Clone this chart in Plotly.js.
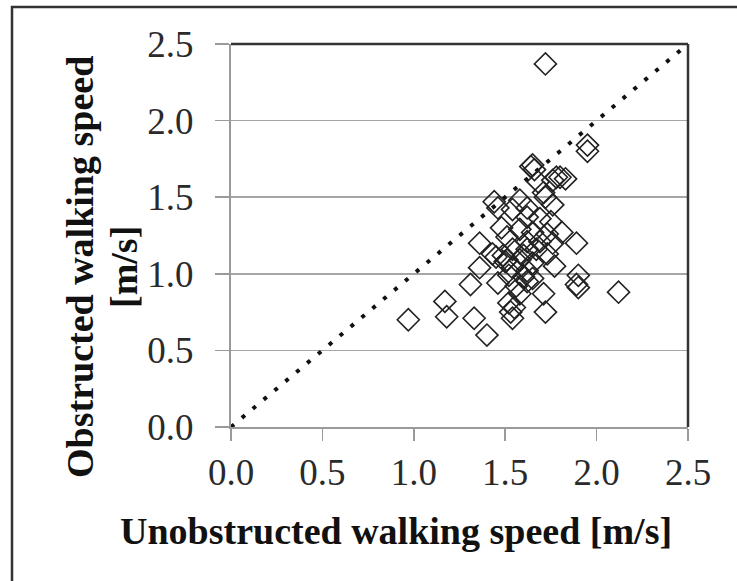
<!DOCTYPE html>
<html>
<head>
<meta charset="utf-8">
<script src="https://cdn.plot.ly/plotly-3.0.1.min.js"></script>
<style>
  html, body { margin: 0; padding: 0; background: #ffffff; }
  #chart { width: 737px; height: 581px; }
</style>
</head>
<body>
<div id="chart"></div>
<script>
// Walking speed of each pedestrian: unobstructed (x) vs obstructed (y), in m/s
const unobstructedSpeed = [
  0.97, 1.17, 1.18, 1.33, 1.40, 1.31, 1.36, 1.36, 1.44, 1.46,
  1.46, 1.48, 1.43, 1.49, 1.52, 1.53, 1.54, 1.55, 1.58, 1.71,
  1.72, 1.77, 1.89, 1.90, 1.89, 1.90, 2.12, 1.95, 1.95, 1.72,
  1.64, 1.66, 1.65, 1.80, 1.83, 1.76, 1.71, 1.72, 1.76, 1.58,
  1.62, 1.54, 1.62, 1.69, 1.75, 1.58, 1.65, 1.73, 1.81, 1.51,
  1.62, 1.69, 1.76, 1.54, 1.62, 1.67, 1.73, 1.45, 1.51, 1.58,
  1.65, 1.54, 1.62, 1.52, 1.60, 1.65, 1.56, 1.62, 1.50, 1.60,
  1.68, 1.78
];
const obstructedSpeed = [
  0.70, 0.82, 0.72, 0.71, 0.60, 0.93, 1.04, 1.20, 1.47, 1.43,
  0.94, 1.30, 1.13, 1.12, 0.81, 0.75, 0.71, 0.78, 0.87, 0.87,
  0.75, 1.05, 1.20, 0.99, 0.93, 0.91, 0.88, 1.80, 1.84, 2.37,
  1.70, 1.68, 1.71, 1.63, 1.62, 1.61, 1.53, 1.50, 1.45, 1.48,
  1.43, 1.42, 1.37, 1.36, 1.34, 1.29, 1.27, 1.26, 1.27, 1.24,
  1.21, 1.21, 1.20, 1.16, 1.16, 1.16, 1.13, 1.11, 1.09, 1.09,
  1.07, 1.04, 1.02, 0.99, 0.98, 0.97, 0.92, 0.95, 1.08, 1.12,
  1.60, 1.63
];

// Equal-speed reference line (y = x)
const equalityLine = [0, 2.5];

// Axis ticks
const tickValues = [0, 0.5, 1.0, 1.5, 2.0, 2.5];
const tickLabels = ['0.0', '0.5', '1.0', '1.5', '2.0', '2.5'];

const xTitle = 'Unobstructed walking speed [m/s]';
const yTitleLines = ['Obstructed walking speed', '[m/s]'];

const serif = '"Liberation Serif", "Times New Roman", Times, serif';

const traces = [
  {
    type: 'scatter',
    mode: 'lines',
    x: equalityLine,
    y: equalityLine,
    line: { color: '#111111', width: 4, dash: '4px,10.2px' },
    hoverinfo: 'skip'
  },
  {
    type: 'scatter',
    mode: 'markers',
    x: unobstructedSpeed,
    y: obstructedSpeed,
    marker: {
      symbol: 'diamond-open',
      size: 17,
      color: '#222222',
      line: { color: '#222222', width: 1.6 }
    }
  }
];

const axisCommon = {
  range: [0, 2.5],
  tickvals: tickValues,
  ticktext: tickLabels,
  ticks: 'outside',
  tickcolor: '#9a9a9a',
  tickwidth: 1.5,
  showline: true,
  linecolor: '#9a9a9a',
  linewidth: 2,
  zeroline: false,
  tickfont: { family: serif, size: 37, color: '#2a2a2a' },
  fixedrange: true
};

const titleFont = { family: serif, size: 38, color: '#111111', weight: 'bold' };

const layout = {
  width: 737,
  height: 581,
  margin: { l: 231, r: 49, t: 44, b: 154 },
  paper_bgcolor: '#ffffff',
  plot_bgcolor: '#ffffff',
  showlegend: false,
  xaxis: Object.assign({}, axisCommon, {
    ticklen: 12,
    showgrid: false,
    ticklabelstandoff: 0
  }),
  yaxis: Object.assign({}, axisCommon, {
    ticklen: 14,
    showgrid: true,
    gridcolor: '#a6a6a6',
    gridwidth: 1.5,
    ticklabelstandoff: 14
  }),
  shapes: [
    // dark top and right edges of the plotting area
    { type: 'line', xref: 'paper', yref: 'paper', x0: 0, x1: 1, y0: 1, y1: 1,
      line: { color: '#333333', width: 2.5 }, layer: 'above' },
    { type: 'line', xref: 'paper', yref: 'paper', x0: 1, x1: 1, y0: 0, y1: 1,
      line: { color: '#333333', width: 2.5 }, layer: 'above' },
    // outer figure frame
    { type: 'rect', xref: 'paper', yref: 'paper',
      x0: -0.4792, x1: 1.3, y0: -0.6, y1: 1.0966,
      line: { color: '#333333', width: 2.5 }, fillcolor: 'rgba(0,0,0,0)', layer: 'above' }
  ],
  annotations: [
    {
      text: xTitle, xref: 'paper', yref: 'paper',
      x: 0.361, y: -0.272, xanchor: 'center', yanchor: 'middle',
      showarrow: false, font: titleFont
    },
    {
      text: yTitleLines[0], xref: 'paper', yref: 'paper',
      x: -0.3304, y: 0.4178, xanchor: 'center', yanchor: 'middle',
      textangle: -90, showarrow: false, font: titleFont
    },
    {
      text: yTitleLines[1], xref: 'paper', yref: 'paper',
      x: -0.2341, y: 0.4178, xanchor: 'center', yanchor: 'middle',
      textangle: -90, showarrow: false, font: titleFont
    }
  ]
};

Plotly.newPlot('chart', traces, layout, { displayModeBar: false, staticPlot: true });
</script>
</body>
</html>
